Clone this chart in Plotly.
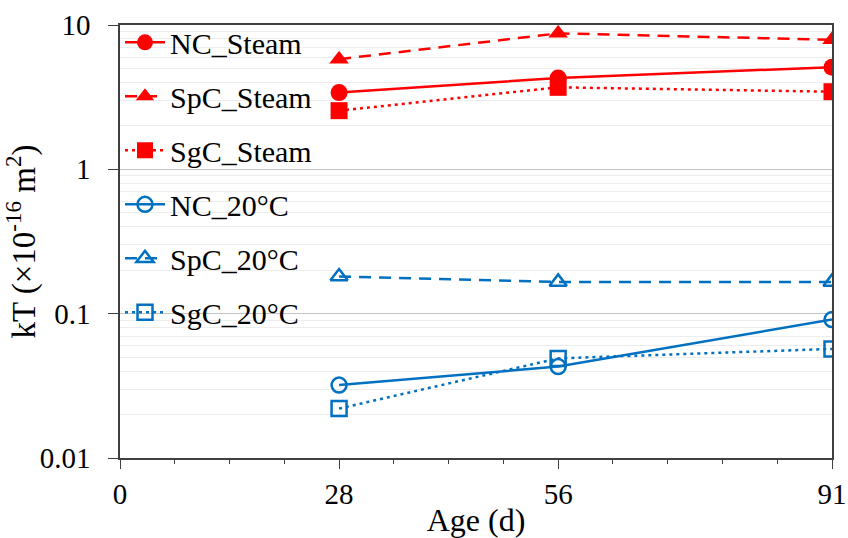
import plotly.graph_objects as go

# Curing age (days)
age = [28, 56, 91]

# Air permeability coefficient kT (x10^-16 m^2)
nc_steam = [3.4, 4.3, 5.1]
spc_steam = [5.8, 8.75, 7.9]
sgc_steam = [2.55, 3.7, 3.45]
nc_20 = [0.032, 0.043, 0.091]
spc_20 = [0.181, 0.166, 0.166]
sgc_20 = [0.022, 0.049, 0.057]

x_ticks = [0, 28, 56, 91]
y_ticks = [0.01, 0.1, 1, 10]
y_tick_text = ["0.01", "0.1", "1", "10"]

RED = "#FF0000"
BLUE = "#0070C0"
AXIS = "#404040"
FONT = "Liberation Serif"

series = [
    ("NC_Steam", nc_steam, RED, "solid", "circle"),
    ("SpC_Steam", spc_steam, RED, "12px,8px", "triangle-up"),
    ("SgC_Steam", sgc_steam, RED, "3px,4px", "square"),
    ("NC_20°C", nc_20, BLUE, "solid", "circle-open"),
    ("SpC_20°C", spc_20, BLUE, "12px,8px", "triangle-up-open"),
    ("SgC_20°C", sgc_20, BLUE, "3px,4px", "square-open"),
]

fig = go.Figure()
for i, (name, vals, color, dash, symbol) in enumerate(series):
    is_open = symbol.endswith("open")
    fig.add_trace(go.Scatter(
        x=age, y=vals, name=name, mode="lines+markers",
        legendgroup=f"g{i}",
        line=dict(color=color, width=2.5, dash=dash),
        marker=dict(symbol=symbol, size=15 if is_open else 17,
                    color=color, line=dict(color=color, width=2.5 if is_open else 0)),
    ))

fig.update_layout(
    width=848, height=538,
    margin=dict(l=120, r=16, t=25, b=80),
    paper_bgcolor="white", plot_bgcolor="white",
    font=dict(family=FONT, size=28, color="black"),
    showlegend=True,
    legend=dict(
        x=0.0, y=1.02, xanchor="left", yanchor="top",
        bgcolor="rgba(0,0,0,0)", borderwidth=0,
        font=dict(family=FONT, size=30, color="black"),
        tracegroupgap=12, itemwidth=40, maxheight=600,
    ),
    xaxis=dict(
        range=[0, 91], tickmode="array", tickvals=x_ticks,
        ticks="outside", ticklen=9, tickwidth=1.2, tickcolor=AXIS,
        showline=True, linecolor=AXIS, linewidth=1.5, mirror=True,
        showgrid=False, zeroline=False, automargin=False,
        ticklabeloverflow="allow",
        tickfont=dict(family=FONT, size=29),
        title=dict(text="Age (d)", font=dict(family=FONT, size=32), standoff=0),
        minor=dict(tick0=0, dtick=7, ticks="outside", ticklen=4,
                   tickcolor=AXIS, showgrid=False),
    ),
    yaxis=dict(
        type="log", range=[-2, 1], tickmode="array",
        tickvals=y_ticks, ticktext=y_tick_text,
        ticks="outside", ticklen=10, tickwidth=1.2, tickcolor=AXIS,
        ticklabelstandoff=12, ticklabeloverflow="allow",
        showline=True, linecolor=AXIS, linewidth=1.5, mirror=True,
        showgrid=True, gridcolor="#c4c4c4", gridwidth=1,
        zeroline=False, automargin=False,
        tickfont=dict(family=FONT, size=29),
        title=dict(text="kT (×10<sup>-16</sup> m<sup>2</sup>)",
                   font=dict(family=FONT, size=33), standoff=8),
        minor=dict(dtick="D1", showgrid=True, gridcolor="#ededed",
                   gridwidth=1, ticks=""),
    ),
    # inner half of the crossing tick marks on the value axis
    yaxis2=dict(
        type="log", range=[-2, 1], overlaying="y", side="left",
        tickmode="array", tickvals=y_ticks,
        ticks="inside", ticklen=10, tickwidth=1.2, tickcolor=AXIS,
        showticklabels=False, showgrid=False, showline=False,
        zeroline=False, automargin=False,
    ),
)

fig.write_html("out.html")
